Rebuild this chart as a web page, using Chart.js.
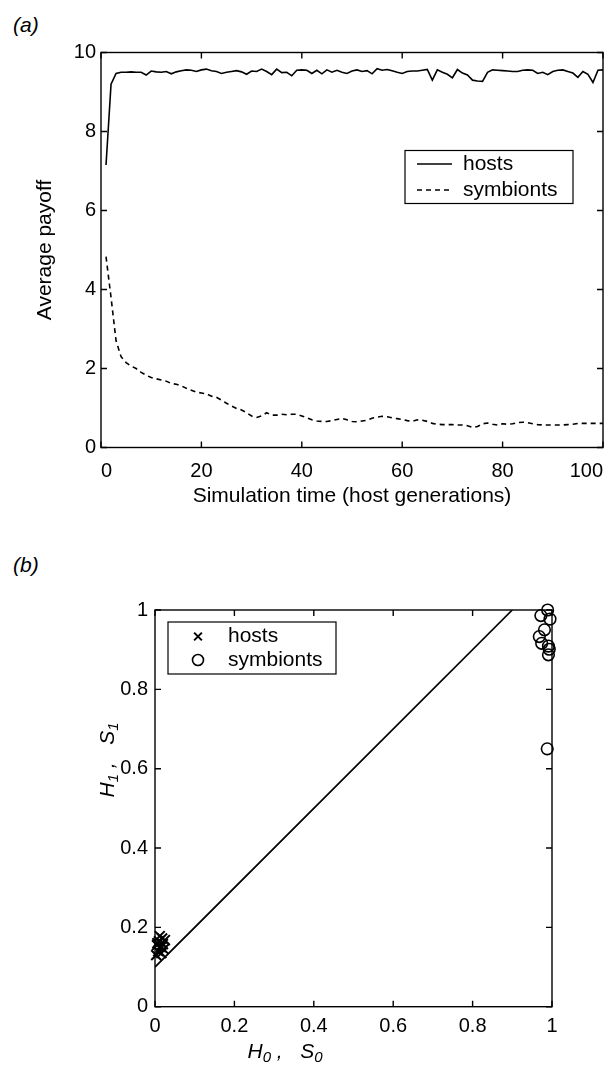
<!DOCTYPE html>
<html><head><meta charset="utf-8">
<script src="https://cdn.jsdelivr.net/npm/chart.js@4.4.0/dist/chart.umd.min.js"></script>
<style>
html,body{margin:0;padding:0;background:#fff;width:611px;height:1066px;overflow:hidden;font-family:"Liberation Sans",Arial,sans-serif;position:relative;}
#wa{position:absolute;left:0;top:0;width:615px;height:512px;}
#wb{position:absolute;left:0;top:530px;width:611px;height:536px;}
.lab{position:absolute;left:13px;font-style:italic;font-size:21px;line-height:1;color:#000;}
</style></head><body>
<div class="lab" style="top:14px">(a)</div>
<div class="lab" style="top:554px">(b)</div>
<div id="wa"><canvas id="ca"></canvas></div>
<div id="wb"><canvas id="cb"></canvas></div>
<script>
// ---------- Panel (a) data ----------
const generations = [1,2,3,4,5,6,7,8,9,10,11,12,13,14,15,16,17,18,19,20,21,22,23,24,25,26,27,28,29,30,31,32,33,34,35,36,37,38,39,40,41,42,43,44,45,46,47,48,49,50,51,52,53,54,55,56,57,58,59,60,61,62,63,64,65,66,67,68,69,70,71,72,73,74,75,76,77,78,79,80,81,82,83,84,85,86,87,88,89,90,91,92,93,94,95,96,97,98,99,100];
const hostsPayoff = [7.15,9.2,9.47,9.5,9.5,9.51,9.5,9.5,9.43,9.53,9.51,9.5,9.52,9.46,9.51,9.54,9.56,9.55,9.52,9.56,9.58,9.54,9.52,9.47,9.5,9.52,9.54,9.51,9.45,9.53,9.52,9.58,9.52,9.44,9.58,9.49,9.5,9.41,9.55,9.56,9.55,9.47,9.55,9.46,9.56,9.5,9.55,9.5,9.47,9.53,9.56,9.52,9.54,9.46,9.59,9.55,9.57,9.54,9.5,9.47,9.52,9.53,9.53,9.55,9.57,9.3,9.56,9.5,9.45,9.36,9.57,9.48,9.43,9.3,9.28,9.27,9.5,9.56,9.55,9.54,9.53,9.52,9.52,9.55,9.56,9.55,9.47,9.5,9.44,9.52,9.55,9.56,9.52,9.48,9.37,9.52,9.45,9.24,9.55,9.56];
const symbiontsPayoff = [4.83,3.8,2.7,2.3,2.15,2.06,2.0,1.9,1.83,1.77,1.74,1.71,1.68,1.62,1.6,1.56,1.5,1.45,1.4,1.38,1.36,1.3,1.27,1.2,1.12,1.05,0.99,0.95,0.88,0.8,0.76,0.8,0.88,0.82,0.82,0.84,0.83,0.84,0.84,0.8,0.75,0.7,0.67,0.66,0.66,0.68,0.71,0.74,0.7,0.66,0.65,0.67,0.69,0.74,0.77,0.79,0.78,0.75,0.73,0.71,0.68,0.66,0.7,0.69,0.66,0.61,0.59,0.58,0.58,0.58,0.57,0.57,0.55,0.51,0.53,0.6,0.62,0.59,0.57,0.6,0.59,0.6,0.63,0.64,0.63,0.6,0.58,0.57,0.57,0.57,0.57,0.57,0.58,0.59,0.61,0.61,0.61,0.61,0.61,0.61];
const seriesLabelsA = ['hosts','symbionts'];
const xTickStepA = 20, xMaxA = 100, yTickStepA = 2, yMaxA = 10;

// ---------- Panel (b) data ----------
const hostsH0 = [0.005,0.010,0.018,0.025,0.015,0.008,0.020,0.003,0.012,0.022,0.006,0.016];
const hostsH1 = [0.155,0.165,0.172,0.168,0.150,0.140,0.158,0.130,0.178,0.145,0.160,0.135];
const symbiontsS0 = [0.989,0.972,0.995,0.981,0.968,0.974,0.991,0.993,0.991,0.988];
const symbiontsS1 = [1.0,0.986,0.977,0.950,0.933,0.916,0.909,0.901,0.887,0.650];
const diagonalX = [0,0.9];
const diagonalY = [0.1,1];
const seriesLabelsB = ['hosts','symbionts'];
const tickStepB = 0.2;

const FONT = '"Liberation Sans", Arial, Helvetica, sans-serif';
Chart.defaults.font.family = FONT;
Chart.defaults.color = '#000';

const boxTicks = {
  id: 'boxTicks',
  afterDatasetsDraw(chart, args, o) {
    const {ctx, chartArea: a, scales: {x, y}} = chart;
    const L = o.len || 6;
    ctx.save();
    ctx.strokeStyle = '#000'; ctx.lineWidth = 1.4; ctx.setLineDash([]);
    ctx.strokeRect(a.left, a.top, a.right - a.left, a.bottom - a.top);
    ctx.beginPath();
    x.ticks.forEach(t => { const p = x.getPixelForValue(t.value);
      ctx.moveTo(p, a.bottom); ctx.lineTo(p, a.bottom - L);
      ctx.moveTo(p, a.top); ctx.lineTo(p, a.top + L); });
    y.ticks.forEach(t => { const p = y.getPixelForValue(t.value);
      ctx.moveTo(a.left, p); ctx.lineTo(a.left + L, p);
      ctx.moveTo(a.right, p); ctx.lineTo(a.right - L, p); });
    ctx.stroke();
    ctx.restore();
  }
};

const boxLegend = {
  id: 'boxLegend',
  afterDraw(chart, args, o) {
    const {ctx, chartArea: a} = chart;
    const bx = o.fromRight != null ? a.right - o.fromRight - o.width : a.left + o.fromLeft;
    const by = a.top + o.fromTop;
    ctx.save();
    ctx.fillStyle = '#fff'; ctx.fillRect(bx, by, o.width, o.height);
    ctx.strokeStyle = '#000'; ctx.lineWidth = 1.2; ctx.setLineDash([]);
    ctx.strokeRect(bx, by, o.width, o.height);
    ctx.font = o.font; ctx.textBaseline = 'middle'; ctx.textAlign = 'left';
    chart.data.datasets.forEach((ds, i) => {
      if (ds.legendHidden) return;
      const ry = by + o.rowY[i];
      ctx.strokeStyle = '#000';
      if (o.kind === 'line') {
        ctx.lineWidth = ds.borderWidth; ctx.setLineDash(ds.borderDash || []);
        ctx.beginPath(); ctx.moveTo(bx + o.sampleX0, ry); ctx.lineTo(bx + o.sampleX1, ry); ctx.stroke();
        ctx.setLineDash([]);
      } else {
        ctx.lineWidth = ds.borderWidth; ctx.fillStyle = 'rgba(0,0,0,0)';
        Chart.helpers.drawPoint(ctx, {pointStyle: ds.pointStyle, radius: o.markR || ds.pointRadius, rotation: 0, borderWidth: ds.borderWidth}, bx + o.markX, ry);
      }
      ctx.fillStyle = '#000';
      ctx.fillText(ds.label, bx + o.textX, ry);
    });
    ctx.restore();
  }
};

function drawRich(ctx, parts, font, subFont, cx, cy, rotate) {
  ctx.save();
  ctx.translate(cx, cy);
  if (rotate) ctx.rotate(-Math.PI / 2);
  let w = 0;
  parts.forEach(p => { ctx.font = p.sub ? subFont : font; w += ctx.measureText(p.t).width; });
  let x = -w / 2;
  ctx.fillStyle = '#000'; ctx.textBaseline = 'alphabetic'; ctx.textAlign = 'left';
  parts.forEach(p => { ctx.font = p.sub ? subFont : font; ctx.fillText(p.t, x, p.sub ? 11 : 7); x += ctx.measureText(p.t).width; });
  ctx.restore();
}

const richTitles = {
  id: 'richTitles',
  afterDraw(chart, args, o) {
    const {ctx, chartArea: a} = chart;
    drawRich(ctx, o.xParts, o.font, o.subFont, a.left + o.xDx, a.bottom + o.xDy, false);
    drawRich(ctx, o.yParts, o.font, o.subFont, a.left + o.yDx, a.top + o.yDy, true);
  }
};

const fmtB = v => String(Number(v.toFixed(2)));

// ---------- Chart (a) ----------
new Chart(document.getElementById('ca'), {
  type: 'line',
  data: {
    datasets: [
      { label: seriesLabelsA[0], data: generations.map((g, i) => ({x: g, y: hostsPayoff[i]})),
        borderColor: '#000', borderWidth: 1.6, pointRadius: 0, tension: 0, fill: false },
      { label: seriesLabelsA[1], data: generations.map((g, i) => ({x: g, y: symbiontsPayoff[i]})),
        borderColor: '#000', borderWidth: 1.6, borderDash: [5, 4], pointRadius: 0, tension: 0, fill: false }
    ]
  },
  options: {
    responsive: true, maintainAspectRatio: false, animation: false,
    layout: { padding: { top: 52.5, right: 0, bottom: 0, left: 0 } },
    plugins: {
      legend: { display: false }, tooltip: { enabled: false },
      boxLegend: { kind: 'line', fromRight: 30, fromTop: 98, width: 168, height: 53, rowY: [13.5, 39.5],
        sampleX0: 12, sampleX1: 47, textX: 58, font: '21px ' + FONT },
      boxTicks: { len: 6 }
    },
    scales: {
      x: { type: 'linear', min: 0, max: xMaxA,
        grid: { display: false, drawTicks: false }, border: { display: false },
        ticks: { stepSize: xTickStepA, padding: 12, align: 'inner', maxRotation: 0, font: { size: 20 } },
        title: { display: true, text: 'Simulation time (host generations)', font: { size: 21 }, padding: { top: 0, bottom: 3 } },
        afterFit(s) { s.height = 512 - 447.5; } },
      y: { min: 0, max: yMaxA,
        grid: { display: false, drawTicks: false }, border: { display: false },
        ticks: { stepSize: yTickStepA, padding: 5, font: { size: 20 } },
        title: { display: true, text: 'Average payoff', font: { size: 21 }, padding: { top: 32.4, bottom: 0 } },
        afterFit(s) { s.width = 101; } }
    }
  },
  plugins: [boxTicks, boxLegend]
});

// ---------- Chart (b) ----------
new Chart(document.getElementById('cb'), {
  type: 'scatter',
  data: {
    datasets: [
      { label: seriesLabelsB[0], data: hostsH0.map((v, i) => ({x: v, y: hostsH1[i]})),
        pointStyle: 'crossRot', pointRadius: 7, borderWidth: 2, borderColor: '#000', backgroundColor: 'rgba(0,0,0,0)', clip: false },
      { label: seriesLabelsB[1], data: symbiontsS0.map((v, i) => ({x: v, y: symbiontsS1[i]})),
        pointStyle: 'circle', pointRadius: 5.8, borderWidth: 1.6, borderColor: '#000', backgroundColor: 'rgba(0,0,0,0)', clip: false },
      { label: 'diagonal', legendHidden: true, type: 'line', showLine: true,
        data: diagonalX.map((v, i) => ({x: v, y: diagonalY[i]})),
        borderColor: '#000', borderWidth: 1.7, pointRadius: 0, tension: 0, fill: false }
    ]
  },
  options: {
    responsive: true, maintainAspectRatio: false, animation: false,
    layout: { padding: { top: 80, right: 59, bottom: 0, left: 0 } },
    plugins: {
      legend: { display: false }, tooltip: { enabled: false },
      boxLegend: { kind: 'point', fromLeft: 13, fromTop: 12, width: 168, height: 52, rowY: [14.5, 38],
        markX: 30, textX: 60, markR: 5.5, font: '21px ' + FONT },
      boxTicks: { len: 6 },
      richTitles: {
        font: 'italic 21px ' + FONT, subFont: 'italic 15px ' + FONT,
        xParts: [{t: 'H'}, {t: '0', sub: true}, {t: ' ,   '}, {t: 'S'}, {t: '0', sub: true}],
        yParts: [{t: 'H'}, {t: '1', sub: true}, {t: ' ,   '}, {t: 'S'}, {t: '1', sub: true}],
        xDx: 130, xDy: 44, yDx: -48, yDy: 150
      }
    },
    scales: {
      x: { type: 'linear', min: 0, max: 1,
        grid: { display: false, drawTicks: false }, border: { display: false },
        ticks: { stepSize: tickStepB, padding: 8, maxRotation: 0, font: { size: 20 }, callback: fmtB },
        afterFit(s) { s.height = 536 - 476.7; } },
      y: { min: 0, max: 1,
        grid: { display: false, drawTicks: false }, border: { display: false },
        ticks: { stepSize: tickStepB, padding: 7, font: { size: 20 }, callback: fmtB },
        afterFit(s) { s.width = 155; } }
    }
  },
  plugins: [boxTicks, boxLegend, richTitles]
});
</script>
</body></html>
